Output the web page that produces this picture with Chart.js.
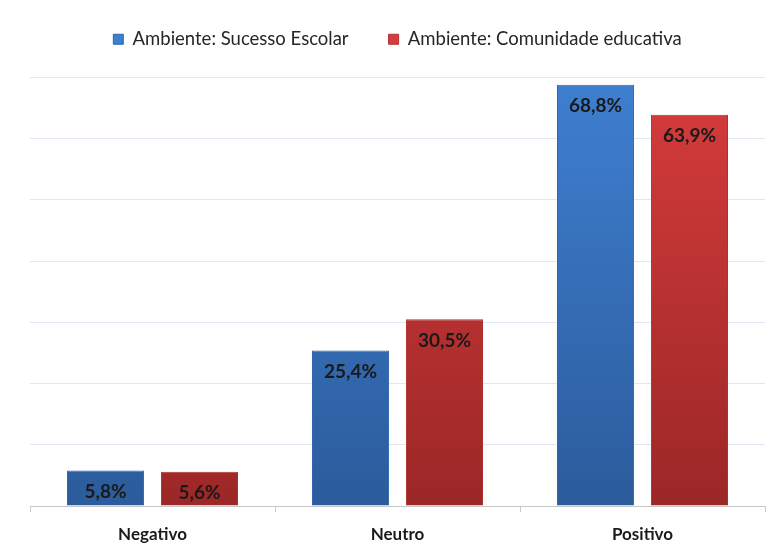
<html>
<body style="margin:0;background:#fff">
<div style="width:776px;height:552px"><canvas id="myChart"></canvas></div>
<script src="https://cdn.jsdelivr.net/npm/chart.js@4.4.1/dist/chart.umd.min.js"></script>
<script>
const categories = ["Negativo", "Neutro", "Positivo"];
const sucessoEscolar = [5.8, 25.4, 68.8];
const comunidadeEducativa = [5.6, 30.5, 63.9];
const seriesNames = ["Ambiente: Sucesso Escolar", "Ambiente: Comunidade educativa"];

function grad(ctx, top, bottom) {
    const area = ctx.chart.chartArea;
    if (!area) return top;
    const g = ctx.chart.ctx.createLinearGradient(0, area.top, 0, area.bottom);
    g.addColorStop(0, top);
    g.addColorStop(1, bottom);
    return g;
}

// extra space under the legend
const legendGap = {
    id: "legendGap",
    beforeInit(chart) {
        const fit = chart.legend.fit;
        chart.legend.fit = function () {
            fit.bind(chart.legend)();
            this.height += 19;
        };
    }
};

const valueLabels = {
    id: "valueLabels",
    afterDatasetsDraw(chart) {
        const c = chart.ctx;
        c.save();
        c.font = "bold 19px Lato, 'Open Sans', sans-serif";
        c.fillStyle = "#1a1a1a";
        c.textAlign = "center";
        c.textBaseline = "top";
        chart.data.datasets.forEach((ds, i) => {
            chart.getDatasetMeta(i).data.forEach((bar, j) => {
                c.fillText(ds.data[j].toFixed(1).replace(".", ",") + "%", bar.x, bar.y + 12);
            });
        });
        c.restore();
    }
};

new Chart("myChart", {
    type: "bar",
    data: {
        labels: categories,
        datasets: [{
            label: seriesNames[0],
            data: sucessoEscolar,
            backgroundColor: (ctx) => grad(ctx, "#3f7fd0", "#2b5c9c"),
            borderColor: "#2f66ad",
            borderWidth: 1
        }, {
            label: seriesNames[1],
            data: comunidadeEducativa,
            backgroundColor: (ctx) => grad(ctx, "#d63c3c", "#9c2727"),
            borderColor: "#b03030",
            borderWidth: 1
        }]
    },
    options: {
        responsive: true,
        maintainAspectRatio: false,
        animation: false,
        categoryPercentage: 0.767,
        barPercentage: 0.82,
        layout: { padding: { left: 30, right: 11, top: -10, bottom: 0 } },
        plugins: {
            legend: {
                position: "top",
                labels: {
                    boxWidth: 10,
                    boxHeight: 10,
                    padding: 40,
                    color: "#262626",
                    font: { family: "Lato, 'Open Sans', sans-serif", size: 18.5 }
                }
            },
            tooltip: { enabled: false }
        },
        scales: {
            x: {
                afterFit(scale) { scale.height = 46; },
                grid: { drawOnChartArea: false, drawTicks: true, tickLength: 6, color: "#c8c8c8" },
                border: { color: "#c8c8c8" },
                ticks: { color: "#1a1a1a", padding: 12, font: { family: "Lato, 'Open Sans', sans-serif", size: 17, weight: "bold" } }
            },
            y: {
                min: 0,
                max: 70,
                ticks: { stepSize: 10, display: false },
                grid: { color: "#dfe7f0", drawTicks: false },
                border: { display: false }
            }
        }
    },
    plugins: [legendGap, valueLabels]
});
</script>
</body>
</html>
